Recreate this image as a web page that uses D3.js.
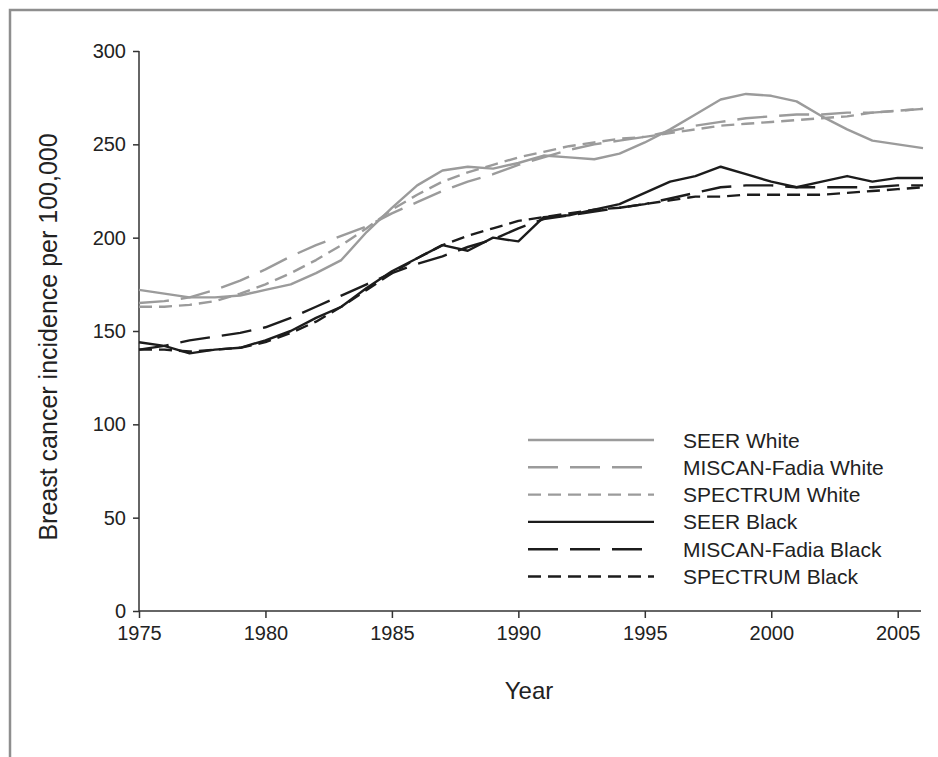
<!DOCTYPE html>
<html>
<head>
<meta charset="utf-8">
<script src="https://cdn.jsdelivr.net/npm/d3@7"></script>
<style>
  html, body { margin: 0; padding: 0; background: #fff; }
  svg { display: block; }
  text { font-family: "Liberation Sans", Arial, sans-serif; fill: #222; }
</style>
</head>
<body>
<svg id="chart" width="938" height="757"></svg>
<script>
// ---------- data ----------
const years = d3.range(1975, 2007);
const seerWhite     = [172,170,168,168,169,172,175,181,188,203,216,228,236,238,237,240,244,243,242,245,251,258,266,274,277,276,273,265,258,252,250,248];
const miscanWhite   = [165,166,168,172,177,183,190,196,201,206,213,219,225,230,234,239,243,247,250,252,254,257,260,262,264,265,266,266,267,267,268,269];
const spectrumWhite = [163,163,164,166,170,175,181,188,196,205,215,223,230,235,239,243,246,249,251,253,254,256,258,260,261,262,263,264,265,267,268,269];
const seerBlack     = [144,142,138,140,141,145,150,157,163,173,182,189,196,193,200,198,211,212,215,218,224,230,233,238,234,230,227,230,233,230,232,232];
const miscanBlack   = [140,142,145,147,149,152,157,163,169,175,181,186,190,195,199,205,210,212,214,216,218,221,224,227,228,228,227,227,227,227,228,228];
const spectrumBlack = [140,140,139,140,141,144,149,155,163,172,181,189,196,201,205,209,211,213,215,216,218,220,222,222,223,223,223,223,224,225,226,227];
const yTicks = [0, 50, 100, 150, 200, 250, 300];
const xTicks = [1975, 1980, 1985, 1990, 1995, 2000, 2005];
const seriesNames = ["SEER White","MISCAN-Fadia White","SPECTRUM White","SEER Black","MISCAN-Fadia Black","SPECTRUM Black"];

const GRAY = "#9b9b9b", BLACK = "#1c1c1c";
const LONG = "30,12", SHORT = "13,7";
const series = [
  {name: seriesNames[0], values: seerWhite,     color: GRAY,  dash: null},
  {name: seriesNames[1], values: miscanWhite,   color: GRAY,  dash: LONG},
  {name: seriesNames[2], values: spectrumWhite, color: GRAY,  dash: SHORT},
  {name: seriesNames[3], values: seerBlack,     color: BLACK, dash: null},
  {name: seriesNames[4], values: miscanBlack,   color: BLACK, dash: LONG},
  {name: seriesNames[5], values: spectrumBlack, color: BLACK, dash: SHORT}
];

// ---------- layout ----------
const svg = d3.select("#chart");
// frame
svg.append("path")
  .attr("d", "M10,757 L10,10 L938,10")
  .attr("fill", "none").attr("stroke", "#8e8e8e").attr("stroke-width", 2.5);

const x = d3.scaleLinear().domain([1975, 2006]).range([139, 923]);
const y = d3.scaleLinear().domain([0, 300]).range([611, 51]);

const axisColor = "#333";

// y axis
const gy = svg.append("g").attr("transform", `translate(${x(1975)},0)`)
  .call(d3.axisLeft(y).tickValues(yTicks).tickSize(6).tickPadding(7).tickFormat(d3.format("d")));
// x axis
const gx = svg.append("g").attr("transform", `translate(0,${y(0)})`)
  .call(d3.axisBottom(x).tickValues(xTicks).tickSize(7).tickPadding(8).tickFormat(d3.format("d")));
[gx, gy].forEach(g => {
  g.select(".domain").attr("stroke", axisColor).attr("stroke-width", 1.5);
  g.selectAll(".tick line").attr("stroke", axisColor).attr("stroke-width", 1.5);
  g.selectAll(".tick text").attr("font-size", 20).attr("fill", "#222")
    .attr("font-family", "'Liberation Sans', Arial, sans-serif");
});
gy.select(".domain").attr("d", `M0,${y(0)}V${y(300)}`);
gx.select(".domain").attr("d", `M${x(1975)},0H${x(2006) - 2}`);

// axis titles
svg.append("text")
  .attr("transform", `translate(57,${(y(0) + y(300)) / 2 + 6}) rotate(-90)`)
  .attr("text-anchor", "middle").attr("font-size", 25).text("Breast cancer incidence per 100,000");
svg.append("text")
  .attr("x", 529).attr("y", 699)
  .attr("text-anchor", "middle").attr("font-size", 24).text("Year");

// lines
const line = d3.line().x((d, i) => x(years[i])).y(d => y(d));
svg.append("g").selectAll("path").data(series).join("path")
  .attr("d", s => line(s.values))
  .attr("fill", "none")
  .attr("stroke", s => s.color)
  .attr("stroke-width", 2.4)
  .attr("stroke-linejoin", "round")
  .attr("stroke-dasharray", s => s.dash);

// legend
const lg = svg.append("g");
const rowY = i => 440 + i * 27.3;
lg.selectAll("line").data(series).join("line")
  .attr("x1", 528).attr("x2", 654)
  .attr("y1", (s, i) => rowY(i)).attr("y2", (s, i) => rowY(i))
  .attr("stroke", s => s.color).attr("stroke-width", 2.4)
  .attr("stroke-dasharray", s => s.dash);
lg.selectAll("text").data(series).join("text")
  .attr("x", 683).attr("y", (s, i) => rowY(i)).attr("dy", "0.36em")
  .attr("font-size", 21).text(s => s.name);
</script>
</body>
</html>
